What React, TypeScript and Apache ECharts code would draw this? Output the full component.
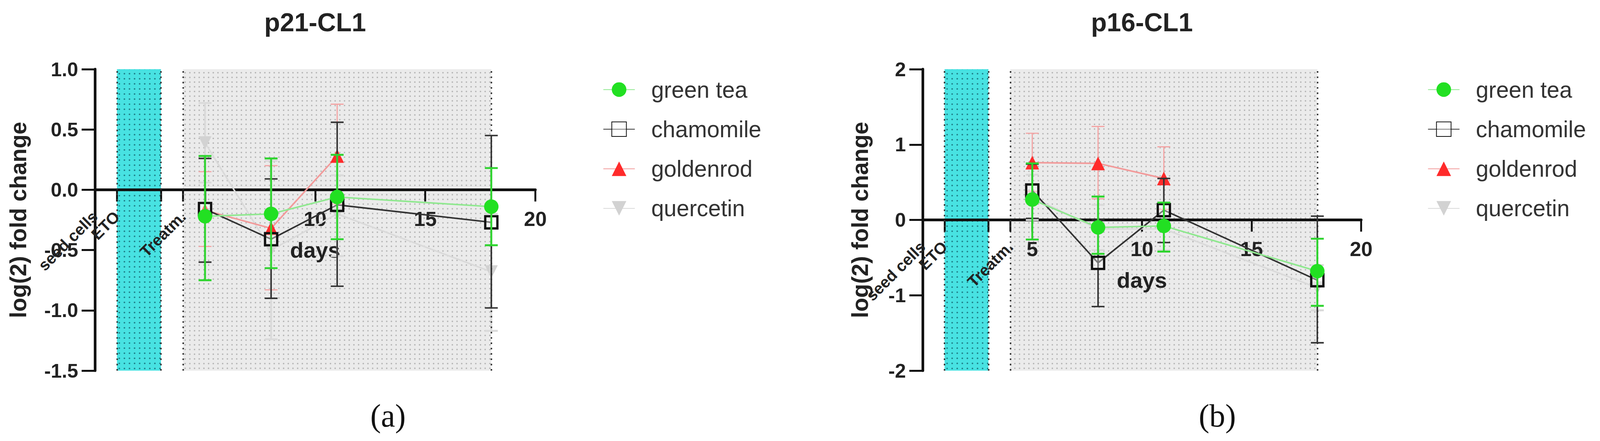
import React, { useEffect, useRef } from 'react';
import * as echarts from 'echarts';

const FONT = '"Liberation Sans", Arial, sans-serif';

const days = [5, 8, 11, 18];
const seriesNames = ['green tea', 'chamomile', 'goldenrod', 'quercetin'];
const phaseDays = [0, 1, 4];
const phaseLabels = ['seed cells', 'ETO', 'Treatm.'];
const xTickDays = [1, 3, 4, 5, 10, 15, 20];
const etoBand = [1, 3];
const treatmentBand = [4, 18];

// p21-CL1
const p21XLabels = [10, 15, 20];
const p21YTicks = [-1.5, -1.0, -0.5, 0.0, 0.5, 1.0];
const p21GreenTea = [-0.22, -0.2, -0.06, -0.14];
const p21GreenTeaLow = [-0.75, -0.65, -0.41, -0.46];
const p21GreenTeaHigh = [0.28, 0.26, 0.29, 0.18];
const p21Chamomile = [-0.16, -0.41, -0.125, -0.27];
const p21ChamomileLow = [-0.6, -0.9, -0.8, -0.98];
const p21ChamomileHigh = [0.26, 0.09, 0.56, 0.45];
const p21Goldenrod = [-0.17, -0.32, 0.28, null];
const p21GoldenrodLow = [-0.47, -0.83, -0.12, null];
const p21GoldenrodHigh = [0.15, 0.2, 0.71, null];
const p21Quercetin = [0.39, -0.5, -0.2, -0.68];
const p21QuercetinLow = [0.06, -1.24, -0.55, -1.17];
const p21QuercetinHigh = [0.72, 0.24, 0.12, -0.2];

// p16-CL1
const p16XLabels = [5, 10, 15, 20];
const p16YTicks = [-2, -1, 0, 1, 2];
const p16GreenTea = [0.27, -0.1, -0.08, -0.68];
const p16GreenTeaLow = [-0.26, -0.45, -0.42, -1.14];
const p16GreenTeaHigh = [0.75, 0.31, 0.23, -0.25];
const p16Chamomile = [0.39, -0.57, 0.13, -0.8];
const p16ChamomileLow = [0.02, -1.15, -0.3, -1.63];
const p16ChamomileHigh = [0.74, 0.0, 0.55, 0.05];
const p16Goldenrod = [0.76, 0.75, 0.55, null];
const p16GoldenrodLow = [0.38, 0.28, 0.14, null];
const p16GoldenrodHigh = [1.15, 1.24, 0.97, null];
const p16Quercetin = [0.3, -0.12, -0.12, -0.9];
const p16QuercetinLow = [0.0, -0.4, -0.4, -1.2];
const p16QuercetinHigh = [0.6, 0.2, 0.2, -0.6];

// marker / line looks, same order as seriesNames
const looks = [
  { symbol: 'circle', size: 38, fill: '#22e022', stroke: '#22e022', border: 0, line: '#8fe88f', bar: '#2fd42f', barWidth: 5 },
  { symbol: 'rect', size: 32, fill: 'rgba(255,255,255,0.35)', stroke: '#111', border: 6, line: '#333', bar: '#333', barWidth: 4 },
  { symbol: 'triangle', size: 36, fill: '#ff2b2b', stroke: '#ff2b2b', border: 0, line: '#f29a9a', bar: '#f4a3a3', barWidth: 3 },
  { symbol: 'path://M0,0L10,0L5,9Z', size: 34, fill: '#d2d2d2', stroke: '#d2d2d2', border: 0, line: '#dadada', bar: '#dadada', barWidth: 5 },
];

const dotPattern = (bg: string, dot: string, size: number, r: number) => {
  const c = document.createElement('canvas');
  c.width = size;
  c.height = size;
  const ctx = c.getContext('2d')!;
  ctx.fillStyle = bg;
  ctx.fillRect(0, 0, size, size);
  ctx.fillStyle = dot;
  ctx.beginPath();
  ctx.arc(size / 2, size / 2, r, 0, Math.PI * 2);
  ctx.fill();
  return { image: c, repeat: 'repeat', imageWidth: size, imageHeight: size };
};

const App = () => {
  const chartRef = useRef<HTMLDivElement>(null);

  useEffect(() => {
    document.body.style.margin = '0';
    document.body.style.overflow = 'hidden';
    document.documentElement.style.overflow = 'hidden';
    const chart = echarts.init(chartRef.current, null, { renderer: 'svg' });

    // layout is laid out for a 4214 x 1128 page, scaled to the real viewport
    const sx = chart.getWidth() / 4214;
    const sy = chart.getHeight() / 1128;
    const X = (v: number) => v * sx;
    const Y = (v: number) => v * sy;
    const F = (v: number) => v * Math.min(sx, sy);

    const cyan = dotPattern('#48e2e2', '#1f7f88', Math.round(F(13)), F(2.1));
    const gray = dotPattern('#ebebeb', '#b5b5b5', Math.round(F(12)), F(2));

    const panels = [
      {
        title: 'p21-CL1', tag: '(a)', tagX: 1022, left: 250, width: 1160, legendLeft: 1588,
        yTicks: p21YTicks, decimals: 1, nameGap: 172, xLabels: p21XLabels,
        means: [p21GreenTea, p21Chamomile, p21Goldenrod, p21Quercetin],
        lows: [p21GreenTeaLow, p21ChamomileLow, p21GoldenrodLow, p21QuercetinLow],
        highs: [p21GreenTeaHigh, p21ChamomileHigh, p21GoldenrodHigh, p21QuercetinHigh],
      },
      {
        title: 'p16-CL1', tag: '(b)', tagX: 3206, left: 2430, width: 1155, legendLeft: 3760,
        yTicks: p16YTicks, decimals: 0, nameGap: 135, xLabels: p16XLabels,
        means: [p16GreenTea, p16Chamomile, p16Goldenrod, p16Quercetin],
        lows: [p16GreenTeaLow, p16ChamomileLow, p16GoldenrodLow, p16QuercetinLow],
        highs: [p16GreenTeaHigh, p16ChamomileHigh, p16GoldenrodHigh, p16QuercetinHigh],
      },
    ];

    const gridTop = 177;
    const gridHeight = 771;
    const axesPerGrid = 1 + phaseDays.length;

    const grid: any[] = [];
    const xAxis: any[] = [];
    const yAxis: any[] = [];
    const series: any[] = [];
    const legend: any[] = [];
    const graphic: any[] = [];

    panels.forEach((p, gi) => {
      const yMin = p.yTicks[0];
      const yMax = p.yTicks[p.yTicks.length - 1];
      const yStep = p.yTicks[1] - p.yTicks[0];
      // the x axis runs through y = 0
      const zeroOffset = -Y(gridHeight) * (0 - yMin) / (yMax - yMin);
      const xi = gi * axesPerGrid;
      const yi = gi;

      grid.push({ left: X(p.left), width: X(p.width), top: Y(gridTop), height: Y(gridHeight) });

      xAxis.push({
        type: 'value', gridIndex: gi, min: 0, max: 20, position: 'bottom', offset: zeroOffset, z: 1,
        axisLine: { onZero: false, lineStyle: { color: '#111', width: F(7) } },
        axisTick: { customValues: xTickDays, length: Y(30), lineStyle: { color: '#111', width: F(5) } },
        axisLabel: {
          customValues: p.xLabels, margin: Y(48), fontSize: F(54), fontWeight: 'bold',
          color: '#222', fontFamily: FONT,
        },
        splitLine: { show: false },
        name: 'days', nameLocation: 'middle', nameGap: Y(126),
        nameTextStyle: { fontSize: F(58), fontWeight: 'bold', color: '#222', fontFamily: FONT },
      });
      // one label-only axis per phase label so that none of them gets hidden
      phaseDays.forEach((d, k) => {
        xAxis.push({
          type: 'value', gridIndex: gi, min: 0, max: 20, position: 'bottom', offset: zeroOffset, z: 1,
          axisLine: { show: false, onZero: false },
          axisTick: { show: false },
          splitLine: { show: false },
          axisLabel: {
            customValues: [d], showMinLabel: true, showMaxLabel: true, hideOverlap: false,
            rotate: 45, margin: Y(62), fontSize: F(42), fontWeight: 'bold',
            color: '#222', fontFamily: FONT,
            formatter: () => phaseLabels[k],
          },
        });
      });

      yAxis.push({
        type: 'value', gridIndex: gi, min: yMin, max: yMax, interval: yStep, z: 1,
        axisLine: { show: true, onZero: false, lineStyle: { color: '#111', width: F(7) } },
        axisTick: { show: true, length: X(35), lineStyle: { color: '#111', width: F(5) } },
        axisLabel: {
          margin: X(44), fontSize: F(52), fontWeight: 'bold', color: '#222', fontFamily: FONT,
          formatter: (v: number) => v.toFixed(p.decimals),
        },
        splitLine: { show: false },
        name: 'log(2) fold change', nameLocation: 'middle', nameGap: X(p.nameGap),
        nameTextStyle: { fontSize: F(60), fontWeight: 'bold', color: '#222', fontFamily: FONT },
      });

      // shaded phases with dotted borders
      series.push({
        type: 'line', name: 'phases', xAxisIndex: xi, yAxisIndex: yi, data: [], z: 0, silent: true,
        markArea: {
          silent: true, label: { show: false },
          data: [
            [{ xAxis: etoBand[0], itemStyle: { color: cyan } }, { xAxis: etoBand[1] }],
            [{ xAxis: treatmentBand[0], itemStyle: { color: gray } }, { xAxis: treatmentBand[1] }],
          ],
        },
        markLine: {
          silent: true, symbol: ['none', 'none'], label: { show: false },
          lineStyle: { color: '#333', width: F(4), type: [F(4), F(10)] },
          data: [...etoBand, ...treatmentBand].map((d) => ({ xAxis: d })),
        },
      });

      [3, 2, 1, 0].forEach((si, order) => {
        const look = looks[si];
        const bars = days
          .map((d, i) => [d, p.lows[si][i], p.highs[si][i]])
          .filter((r) => r[1] != null && r[2] != null);
        series.push({
          type: 'custom', name: seriesNames[si] + ' SD', xAxisIndex: xi, yAxisIndex: yi,
          z: 2 + order * 2, silent: true, data: bars, encode: { x: 0, y: [1, 2] },
          renderItem: (params: any, api: any) => {
            const x = api.value(0);
            const lo = api.coord([x, api.value(1)]);
            const hi = api.coord([x, api.value(2)]);
            const cap = X(17);
            const style = { stroke: look.bar, lineWidth: F(look.barWidth) };
            return {
              type: 'group',
              children: [
                { type: 'line', shape: { x1: lo[0], y1: lo[1], x2: hi[0], y2: hi[1] }, style },
                { type: 'line', shape: { x1: lo[0] - cap, y1: lo[1], x2: lo[0] + cap, y2: lo[1] }, style },
                { type: 'line', shape: { x1: hi[0] - cap, y1: hi[1], x2: hi[0] + cap, y2: hi[1] }, style },
              ],
            };
          },
        });
        series.push({
          type: 'line', name: seriesNames[si], xAxisIndex: xi, yAxisIndex: yi,
          z: 3 + order * 2, silent: true,
          data: days.map((d, i) => [d, p.means[si][i]]),
          symbol: look.symbol, symbolSize: F(look.size), showAllSymbol: true,
          itemStyle: { color: look.fill, borderColor: look.stroke, borderWidth: F(look.border) },
          lineStyle: { color: look.line, width: F(4) },
        });
      });

      legend.push({
        orient: 'vertical', left: X(p.legendLeft), top: Y(199), selectedMode: false, padding: 0,
        itemWidth: X(83), itemHeight: F(48), itemGap: Y(41), data: seriesNames,
        textStyle: {
          fontSize: F(60), color: '#333', fontFamily: FONT, lineHeight: F(62),
          padding: [0, 0, 0, X(38)],
        },
      });

      graphic.push({
        type: 'text', x: X(p.left + p.width / 2), y: Y(57),
        style: {
          text: p.title, fontSize: F(68), fontWeight: 'bold', fontFamily: FONT, fill: '#222',
          textAlign: 'center', textVerticalAlign: 'middle',
        },
      });
      graphic.push({
        type: 'text', x: X(p.tagX), y: Y(1063),
        style: {
          text: p.tag, fontSize: F(84), fontFamily: '"Liberation Serif", "Times New Roman", serif', fill: '#111',
          textAlign: 'center', textVerticalAlign: 'middle',
        },
      });
    });

    chart.setOption({
      animation: false,
      backgroundColor: '#ffffff',
      textStyle: { fontFamily: FONT },
      grid, xAxis, yAxis, series, legend, graphic,
    });

    const handleResize = () => chart.resize();
    window.addEventListener('resize', handleResize);
    return () => {
      window.removeEventListener('resize', handleResize);
      chart.dispose();
    };
  }, []);

  return <div ref={chartRef} style={{ width: '100vw', height: '100vh' }} />;
};

export default App;
